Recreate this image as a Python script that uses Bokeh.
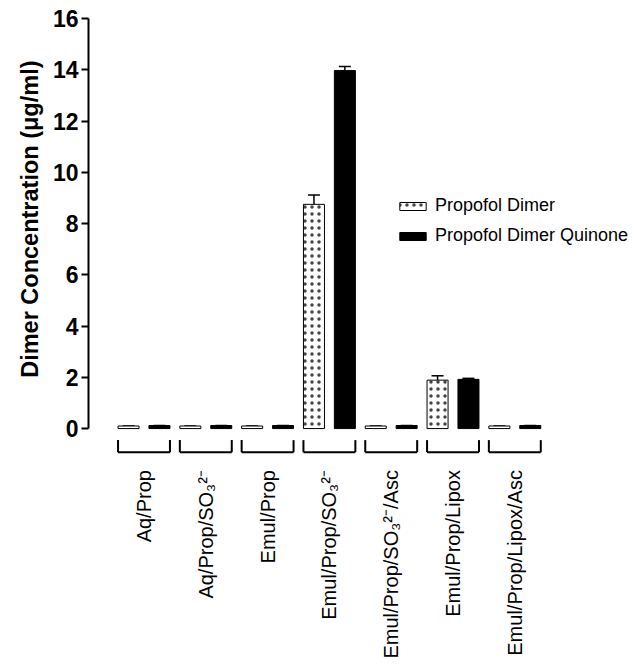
from bokeh.plotting import figure
from bokeh.models import ColumnDataSource, Range1d, Whisker, TeeHead, Legend, LegendItem, FixedTicker, Title
from bokeh.transform import dodge
from bokeh.core.properties import value
from bokeh.embed import file_html
from bokeh.resources import INLINE

groups = ["Aq/Prop", "Aq/Prop/SO\u2083\u00b2\u207b", "Emul/Prop", "Emul/Prop/SO\u2083\u00b2\u207b",
          "Emul/Prop/SO\u2083\u00b2\u207b/Asc", "Emul/Prop/Lipox", "Emul/Prop/Lipox/Asc"]
dimer = [0.10, 0.10, 0.10, 8.75, 0.10, 1.89, 0.10]
dimer_err = [0.0, 0.0, 0.0, 0.36, 0.0, 0.17, 0.0]
quinone = [0.12, 0.12, 0.12, 13.97, 0.12, 1.92, 0.12]
quinone_err = [0.0, 0.0, 0.0, 0.16, 0.0, 0.04, 0.0]

idx = list(range(len(groups)))
n = len(groups)
src = ColumnDataSource(dict(
    pos=idx, groups=groups, dimer=dimer, quinone=quinone,
    dimer_hi=[v + e for v, e in zip(dimer, dimer_err)],
    quinone_hi=[v + e for v, e in zip(quinone, quinone_err)],
    br_top=[-0.45] * n, br_bot=[-0.92] * n, lab_y=[-1.62] * n,
))

p = figure(width=631, height=660, output_backend="svg", toolbar_location=None,
           x_range=Range1d(-0.898, 7.888),
           y_range=Range1d(-9.05, 16.08),
           x_axis_location=None,
           min_border_top=16, min_border_bottom=0, min_border_left=88, min_border_right=0)
p.outline_line_color = None
p.grid.visible = False
p.background_fill_color = "white"

bw = 0.34
rp = p.vbar(x=dodge("pos", -0.25), top="dimer", bottom=0, width=bw, source=src,
            fill_color="white", line_color="black", line_width=1,
            hatch_pattern="dot", hatch_color="#222222", hatch_scale=7, hatch_weight=0.5,
            hatch_alpha=0.85)
rq = p.vbar(x=dodge("pos", 0.25), top="quinone", bottom=0, width=bw, source=src,
            fill_color="black", line_color="black")

p.add_layout(Whisker(base=dodge("pos", -0.25), upper="dimer_hi", lower="dimer",
                     source=src, line_width=1.5, upper_head=TeeHead(size=12, line_width=1.5), lower_head=None))
p.add_layout(Whisker(base=dodge("pos", 0.25), upper="quinone_hi", lower="quinone",
                     source=src, line_width=1.5, upper_head=TeeHead(size=12, line_width=1.5), lower_head=None))

# group brackets
p.segment(x0=dodge("pos", -0.42), x1=dodge("pos", 0.42),
          y0="br_bot", y1="br_bot", source=src, line_color="black", line_width=2)
p.segment(x0=dodge("pos", -0.42), x1=dodge("pos", -0.42),
          y0="br_bot", y1="br_top", source=src, line_color="black", line_width=2)
p.segment(x0=dodge("pos", 0.42), x1=dodge("pos", 0.42),
          y0="br_bot", y1="br_top", source=src, line_color="black", line_width=2)

# group labels (vertical, reading bottom to top)
p.text(x="pos", y="lab_y", text="groups", source=src, angle=1.5708,
       text_align="right", text_baseline="middle",
       text_font=value("Liberation Sans"), text_font_size="20px", text_color="black")

# y axis
ya = p.yaxis[0]
ya.bounds = (0, 16)
ya.ticker = FixedTicker(ticks=list(range(0, 17, 2)))
ya.axis_line_width = 2
ya.axis_line_color = "black"
ya.major_tick_line_width = 2
ya.major_tick_line_color = "black"
ya.major_tick_out = 7
ya.major_tick_in = 0
ya.minor_tick_line_color = None
ya.major_label_text_font = "Liberation Sans"
ya.major_label_text_font_style = "bold"
ya.major_label_text_font_size = "23px"
ya.major_label_text_color = "black"
ya.major_label_standoff = 3

ytitle = Title(text="Dimer Concentration (\u03bcg/ml)", align="right", offset=44,
               text_font="Liberation Sans", text_font_style="bold", text_font_size="23.5px",
               text_color="black", standoff=14)
p.add_layout(ytitle, "left")

legend = Legend(items=[LegendItem(label="Propofol Dimer", renderers=[rp]),
                       LegendItem(label="Propofol Dimer Quinone", renderers=[rq])],
                location=(308, 414), padding=0, margin=0, spacing=9,
                glyph_width=33, glyph_height=10, label_standoff=6,
                label_text_font="Liberation Sans", label_text_font_size="18px",
                label_text_color="black",
                border_line_color=None, background_fill_alpha=0)
p.add_layout(legend)

open("out.html", "w").write(file_html(p, INLINE))
